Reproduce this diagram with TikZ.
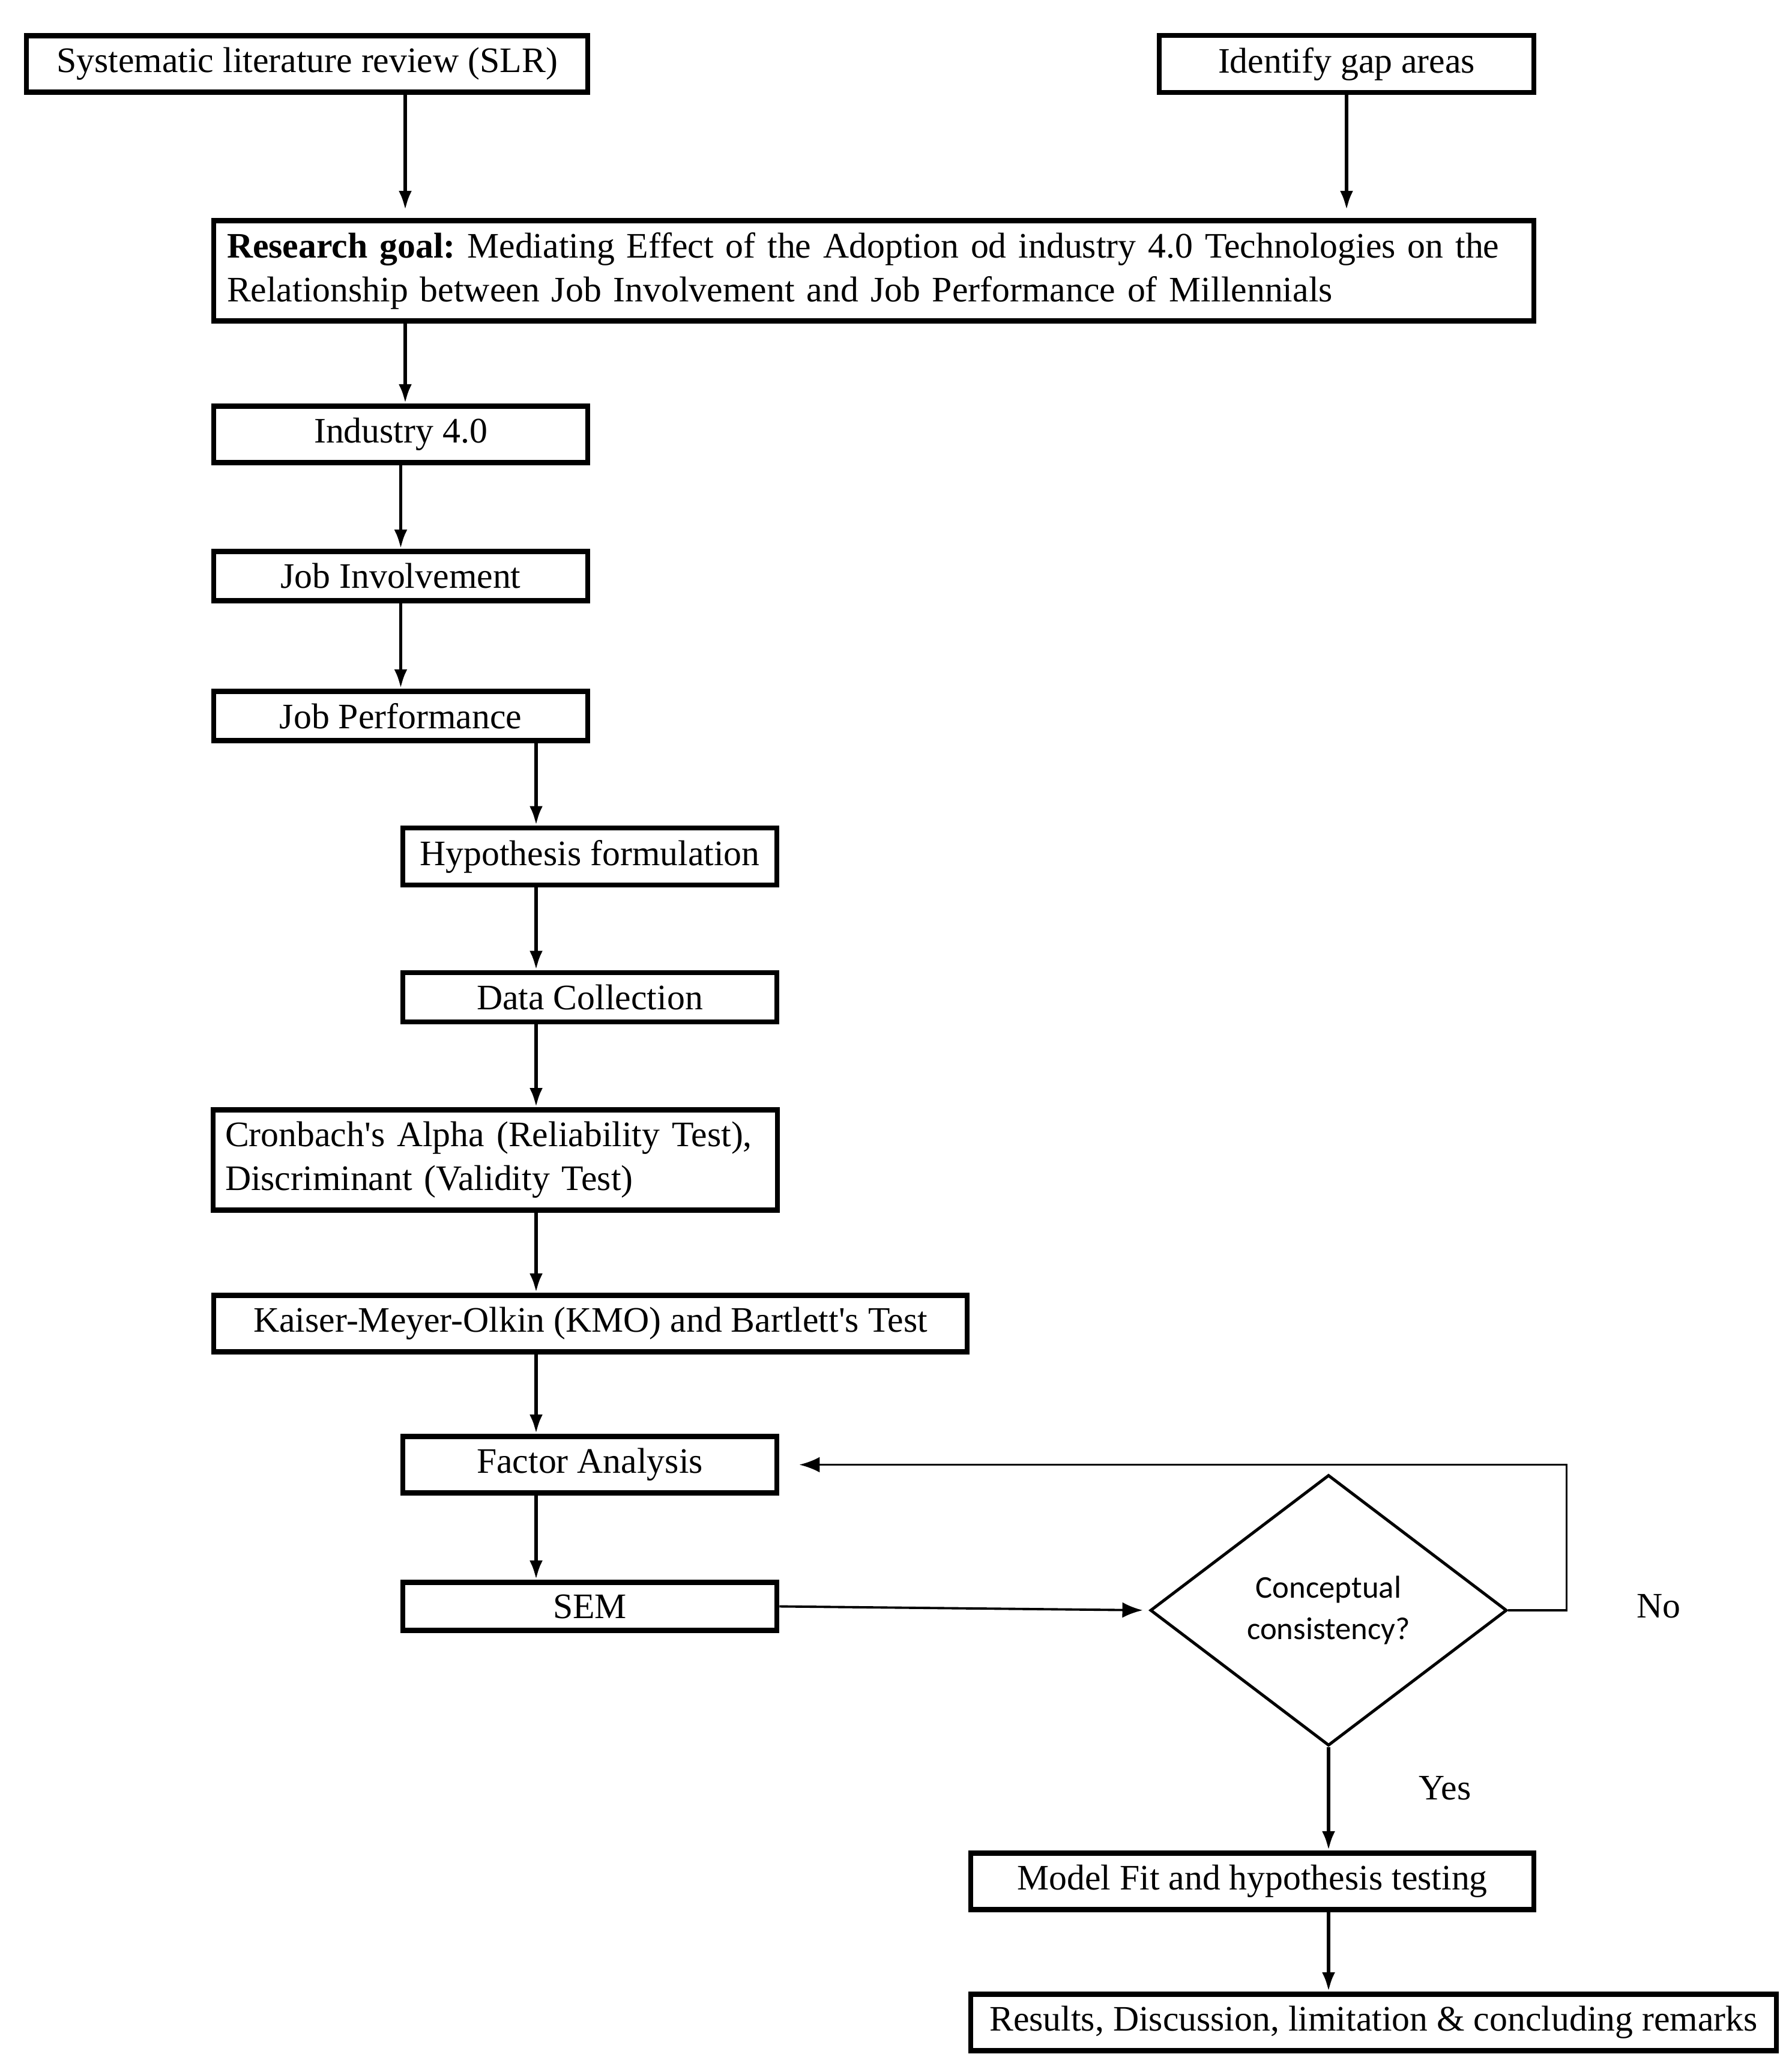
\documentclass[tikz,border=0pt]{standalone}
\usepackage{fontspec}
\setmainfont{Liberation Serif}
\newfontfamily\calibrifont{Carlito}
\usetikzlibrary{arrows.meta,shapes.geometric}
\frenchspacing

\tikzset{
  stepbox/.style={draw, line width=2.5pt, inner sep=0.2cm, minimum height=0.74cm,
    font=\fontsize{17}{20.7}\selectfont},
  arr/.style={-{Latex[length=0.32cm,width=0.22cm]}, line width=1.7pt},
  thinarr/.style={-{Latex[length=0.34cm,width=0.26cm]}, line width=1.1pt},
  decision/.style={draw, diamond, line width=1.4pt, inner sep=0pt, align=center,
    minimum width=5.94cm, minimum height=4.51cm,
    font=\calibrifont\fontsize{15}{19.8}\selectfont},
  answer/.style={font=\fontsize{17}{20.7}\selectfont}
}

\begin{document}
\begin{tikzpicture}
  \useasboundingbox (0,0) rectangle (29.84,-34.46);

  % first row
  \node[stepbox, minimum width=9.35cm] (slr) at (5.115,-1.065) {Systematic literature review (SLR)};
  \node[stepbox, minimum width=6.24cm] (gap) at (22.43,-1.065) {Identify gap areas};

  \node[stepbox, minimum width=21.99cm, minimum height=1.46cm, text width=21.55cm, align=left]
    (goal) at (14.555,-4.51) {\textbf{Research goal:} Mediating Effect of the Adoption od industry 4.0 Technologies on the\\
    Relationship between Job Involvement and Job Performance of Millennials};

  % left column
  \node[stepbox, minimum width=6.23cm] (ind) at (6.675,-7.235) {Industry 4.0};
  \node[stepbox, minimum width=6.23cm] (inv) at (6.675,-9.595) {Job Involvement};
  \node[stepbox, minimum width=6.23cm] (perf) at (6.675,-11.925) {Job Performance};

  % middle column
  \node[stepbox, minimum width=6.23cm] (hyp) at (9.825,-14.265) {Hypothesis formulation};
  \node[stepbox, minimum width=6.23cm] (data) at (9.825,-16.61) {Data Collection};
  \node[stepbox, minimum width=9.38cm, minimum height=1.46cm, text width=9.0cm, align=left]
    (cron) at (8.25,-19.32) {Cronbach\textquotesingle s Alpha (Reliability Test),\\ Discriminant (Validity Test)};
  \node[stepbox, minimum width=12.55cm] (kmo) at (9.835,-22.045) {Kaiser-Meyer-Olkin (KMO) and Bartlett\textquotesingle s Test};
  \node[stepbox, minimum width=6.23cm] (fa) at (9.825,-24.395) {Factor Analysis};
  \node[stepbox, minimum width=6.23cm] (sem) at (9.825,-26.755) {SEM};

  % decision and end
  \node[decision] (cons) at (22.13,-26.82) {Conceptual\\ consistency?};
  \node[stepbox, minimum width=9.38cm] (fit) at (20.86,-31.335) {Model Fit and hypothesis testing};
  \node[stepbox, minimum width=13.42cm] (res) at (22.88,-33.685) {Results, Discussion, limitation \& concluding remarks};

  \node[answer] (no) at (27.63,-26.75) {No};
  \node[answer] (yes) at (24.07,-29.78) {Yes};

  \coordinate (spine1) at (6.75,0);
  \coordinate (spine2) at (8.93,0);

  % connectors
  \draw[arr, shorten >=0.13cm] (slr.south -| spine1) -- (goal.north -| spine1);
  \draw[arr, shorten >=0.13cm] (gap.south) -- (gap.south |- goal.north);
  \draw[arr] (goal.south -| spine1) -- (ind.north -| spine1);
  \draw[arr] (ind.south) -- (inv.north);
  \draw[arr] (inv.south) -- (perf.north);
  \draw[arr] (perf.south -| spine2) -- (hyp.north -| spine2);
  \draw[arr] (hyp.south -| spine2) -- (data.north -| spine2);
  \draw[arr] (data.south -| spine2) -- (cron.north -| spine2);
  \draw[arr] (cron.south -| spine2) -- (kmo.north -| spine2);
  \draw[arr] (kmo.south -| spine2) -- (fa.north -| spine2);
  \draw[arr] (fa.south -| spine2) -- (sem.north -| spine2);

  \draw[thinarr, shorten >=0.1cm] (sem.east) -- (cons.west);
  \draw[thinarr, shorten >=0.33cm] (cons.east) -- ++(0.97,0) |- (fa.east);
  \draw[arr] (cons.south) -- (cons.south |- fit.north);
  \draw[arr] (fit.south -| cons.south) -- (res.north -| cons.south);
\end{tikzpicture}
\end{document}
